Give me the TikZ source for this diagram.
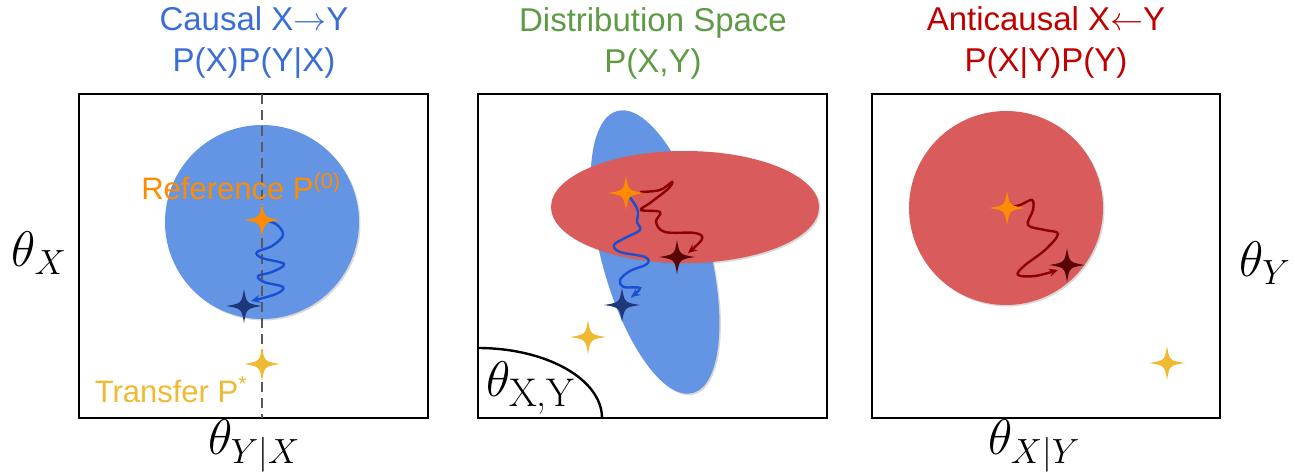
\RequirePackage{fix-cm}
\documentclass[tikz,border=0pt]{standalone}
\usepackage{fontspec}
\setsansfont{Liberation Sans}
\usetikzlibrary{arrows.meta,shadows}
\definecolor{blueF}{RGB}{99,149,228}
\definecolor{redF}{RGB}{217,91,91}
\definecolor{tBlue}{RGB}{58,110,214}
\definecolor{tGreen}{RGB}{95,155,70}
\definecolor{tRed}{RGB}{192,0,0}
\definecolor{oStar}{RGB}{255,140,0}
\definecolor{yStar}{RGB}{240,185,50}
\definecolor{dbStar}{RGB}{30,55,120}
\definecolor{drStar}{RGB}{90,5,5}
\definecolor{bPath}{RGB}{25,80,210}
\definecolor{rPath}{RGB}{140,0,0}
\tikzset{
  panel/.style={draw=black,line width=2.8pt},
  title/.style={font=\sffamily\fontsize{33}{41}\selectfont,align=center,inner sep=0pt},
  ann/.style={font=\sffamily\fontsize{31}{36}\selectfont,inner sep=1pt},
  mlbl/.style={font=\fontsize{50}{56}\selectfont,inner sep=0pt},
  shade/.style={drop shadow={opacity=0.3,shadow xshift=1.5pt,shadow yshift=-1.5pt}},
  walk/.style={line width=2.4pt,-{Stealth[length=9pt,width=8pt]}},
  pics/fstar/.style={code={\fill[#1] (0,-17pt) .. controls (2.5pt,-2.5pt) .. (18pt,0) .. controls (2.5pt,2.5pt) .. (0,17pt) .. controls (-2.5pt,2.5pt) .. (-18pt,0) .. controls (-2.5pt,-2.5pt) .. cycle;}}
}
\begin{document}
\begin{tikzpicture}[x=1pt,y=-1pt]
\useasboundingbox (0,0) rectangle (1295,471);
% ---------- Panel 1 : causal ----------
\node[title,text=tBlue] (t1) at (254,43) {Causal X$\rightarrow$Y\\P(X)P(Y|X)};
\fill[blueF,shade] (262,222) circle[radius=97pt];
\draw[panel] (79,94) rectangle (428,418);
\coordinate (d1top) at (262,94);
\coordinate (d1bot) at (262,418);
\draw[line width=1.8pt,black!65,dash pattern=on 10pt off 6pt] (d1top) -- (d1bot);
\node[ann,text=oStar] (ref1) at (241,186) {Reference P\textsuperscript{(0)}};
\node[ann,text=yStar] (tr1) at (171,390) {Transfer P\textsuperscript{*}};
\coordinate (o1) at (262,220);
\coordinate (b1) at (244,306);
\coordinate (y1) at (262,364);
\draw[walk,bPath] plot[smooth,tension=0.6] coordinates {(o1) (276,224) (283,235) (272,246) (257,252) (262,258) (284,264) (272,272) (258,276) (264,282) (283,287) (276,294) (251,301)};
\pic at (o1) {fstar=oStar};
\pic at (b1) {fstar=dbStar};
\pic at (y1) {fstar=yStar};
\node[mlbl] (lx) at (39,253) {$\theta_X$};
\node[mlbl] (lyx) at (254,446) {$\theta_{Y|X}$};
% ---------- Panel 2 : distribution space ----------
\node[title,text=tGreen] (t2) at (653,43) {Distribution Space\\P(X,Y)};
\fill[blueF,shade,rotate around={-75:(655,252)}] (655,252) ellipse[x radius=146pt,y radius=54pt];
\fill[redF,shade] (685,207) ellipse[x radius=134pt,y radius=56pt];
\draw[panel] (478,94) rectangle (827,418);
\coordinate (a2s) at (478,348);
\draw[line width=2.4pt] (a2s) arc[start angle=90,end angle=0,x radius=124pt,y radius=70pt];
\node[mlbl,anchor=west] (lxy) at (486,388) {$\theta_{\mbox{\fontsize{40}{40}\selectfont X,Y}}$};
\coordinate (o2) at (626,193);
\coordinate (r2) at (677,257);
\coordinate (b2) at (622,305);
\coordinate (y2) at (588,337);
\draw[walk,bPath] plot[smooth,tension=0.6] coordinates {(o2) (634,203) (638,212) (637,222) (640,230) (625,238) (614,245) (620,252) (645,257) (647,264) (630,271) (620,280) (624,287) (640,288) (631,297)};
\draw[walk,rPath] plot[smooth,tension=0.6] coordinates {(640,192) (660,190) (672,182) (668,189) (650,203) (641,210) (660,212) (656,222) (665,232) (695,233) (702,239) (688,253)};
\pic at (o2) {fstar=oStar};
\pic at (r2) {fstar=drStar};
\pic at (b2) {fstar=dbStar};
\pic at (y2) {fstar=yStar};
% ---------- Panel 3 : anticausal ----------
\node[title,text=tRed] (t3) at (1046,43) {Anticausal X$\leftarrow$Y\\P(X|Y)P(Y)};
\fill[redF,shade] (1006,208) circle[radius=97pt];
\draw[panel] (872,94) rectangle (1220,418);
\coordinate (o3) at (1007,208);
\coordinate (r3) at (1067,265);
\coordinate (y3) at (1167,363);
\draw[walk,rPath] plot[smooth,tension=0.6] coordinates {(o3) (1020,205) (1032,200) (1033,210) (1028,225) (1045,230) (1058,234) (1045,250) (1024,266) (1018,275) (1035,276) (1058,270)};
\pic at (o3) {fstar=oStar};
\pic at (r3) {fstar=drStar};
\pic at (y3) {fstar=yStar};
\node[mlbl] (ly) at (1265,263) {$\theta_Y$};
\node[mlbl] (lxgy) at (1034,446) {$\theta_{X|Y}$};
\end{tikzpicture}
\end{document}
